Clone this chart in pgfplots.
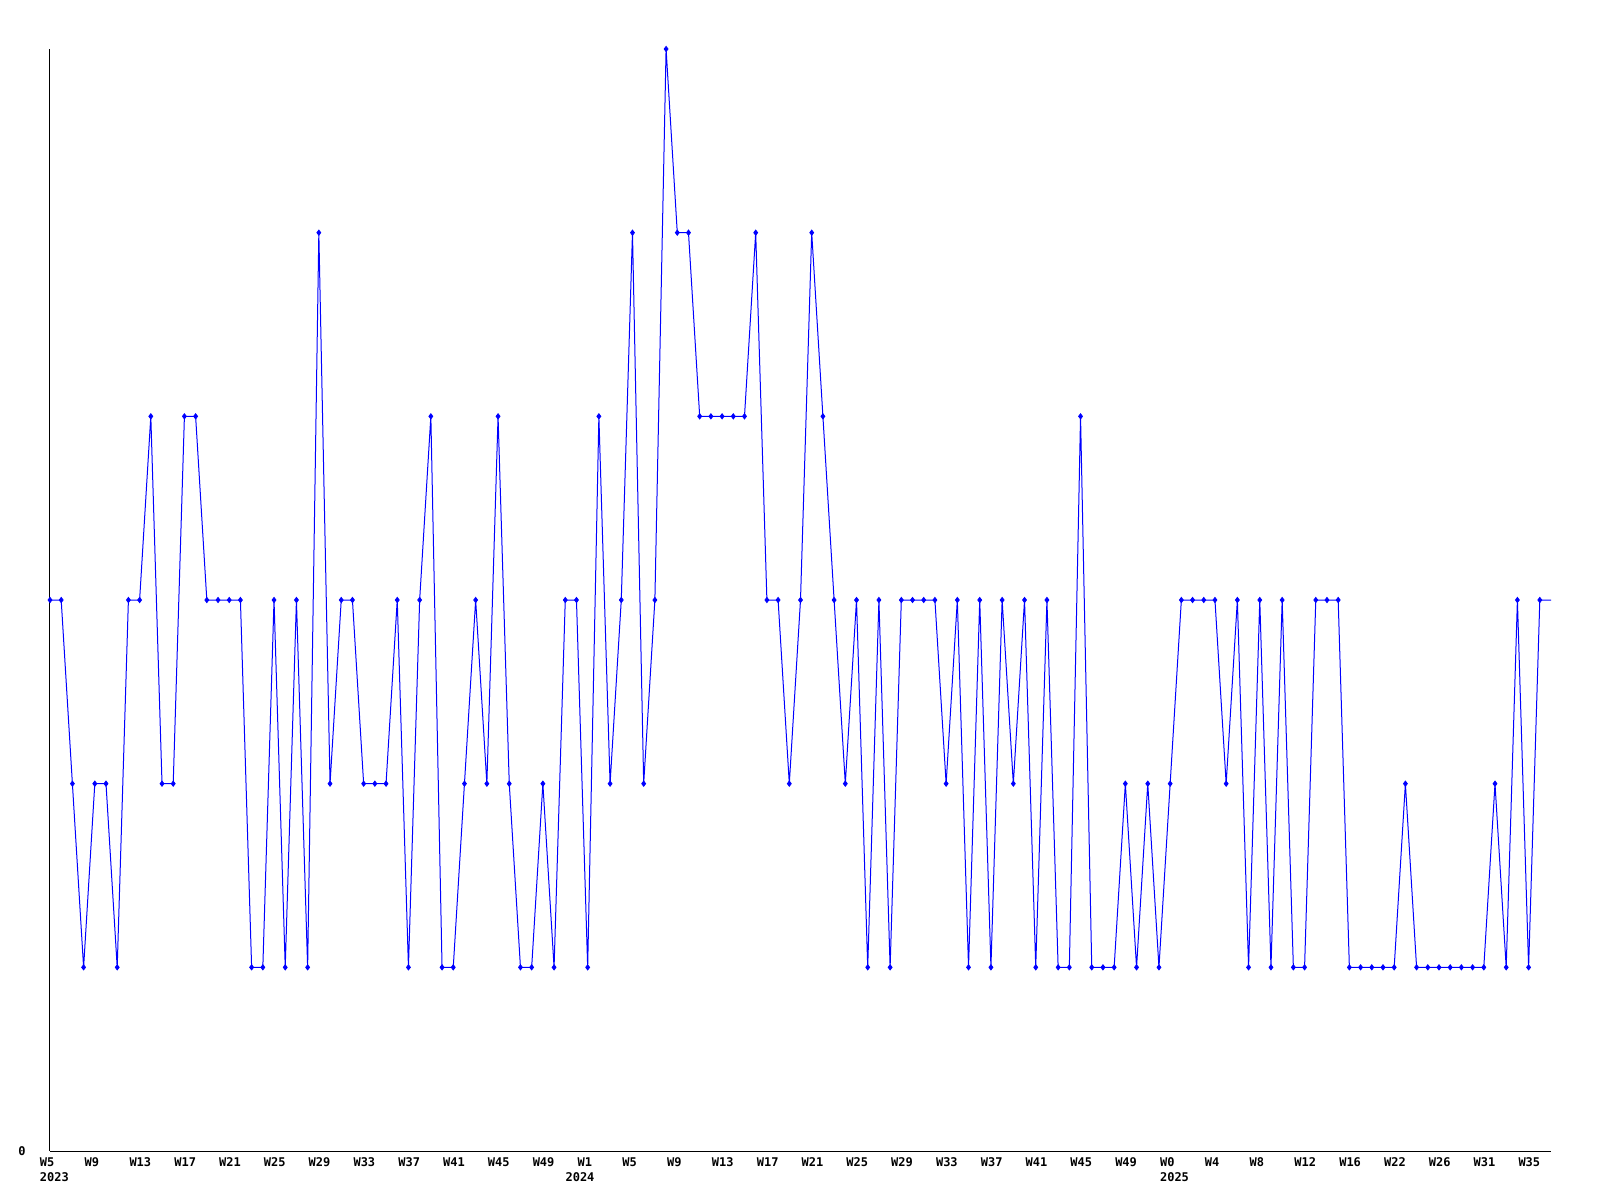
\documentclass[border=0pt]{standalone}
\usepackage{fontspec}
\setmonofont{DejaVu Sans Mono}
\usepackage{pgfplots}
\usepackage{pgfplotstable}
\pgfplotsset{compat=1.18}
\definecolor{lineblue}{RGB}{0,0,255}
\pgfplotstableread{
x y
0 3
1 3
2 2
3 1
4 2
5 2
6 1
7 3
8 3
9 4
10 2
11 2
12 4
13 4
14 3
15 3
16 3
17 3
18 1
19 1
20 3
21 1
22 3
23 1
24 5
25 2
26 3
27 3
28 2
29 2
30 2
31 3
32 1
33 3
34 4
35 1
36 1
37 2
38 3
39 2
40 4
41 2
42 1
43 1
44 2
45 1
46 3
47 3
48 1
49 4
50 2
51 3
52 5
53 2
54 3
55 6
56 5
57 5
58 4
59 4
60 4
61 4
62 4
63 5
64 3
65 3
66 2
67 3
68 5
69 4
70 3
71 2
72 3
73 1
74 3
75 1
76 3
77 3
78 3
79 3
80 2
81 3
82 1
83 3
84 1
85 3
86 2
87 3
88 1
89 3
90 1
91 1
92 4
93 1
94 1
95 1
96 2
97 1
98 2
99 1
100 2
101 3
102 3
103 3
104 3
105 2
106 3
107 1
108 3
109 1
110 3
111 1
112 1
113 3
114 3
115 3
116 1
117 1
118 1
119 1
120 1
121 2
122 1
123 1
124 1
125 1
126 1
127 1
128 1
129 2
130 1
131 3
132 1
133 3
134 3
}\datatable
\begin{document}
\begin{tikzpicture}
\path[use as bounding box] (0,0) rectangle (800pt,600pt);
\begin{axis}[
  at={(25pt,24.5pt)}, anchor=south west,
  scale only axis,
  width=750.5pt, height=551pt,
  xmin=0, xmax=134, ymin=0, ymax=6,
  axis lines=left,
  axis line style={black, line width=0.5pt, -},
  major tick length=0pt,
  xtick={0,4,...,132},
  xticklabels={{W5\\2023},W9,W13,W17,W21,W25,W29,W33,W37,W41,W45,W49,{W1\\\hspace*{-6pt}2024},W5,W9,W13,W17,W21,W25,W29,W33,W37,W41,W45,W49,{W0\\2025},W4,W8,W12,W16,W22,W26,W31,W35},
  xticklabel style={anchor=north west, inner sep=0pt, xshift=-5.25pt, yshift=-3pt, align=left,
    font=\fontsize{6}{7.5}\selectfont\ttfamily\bfseries},
  ytick={0},
  yticklabels={0},
  yticklabel style={anchor=east, inner sep=0pt, xshift=-12pt,
    font=\fontsize{6}{7.5}\selectfont\ttfamily\bfseries},
  clip=false,
]
\addplot[lineblue, line width=0.5pt, no marks] table[x=x,y=y] {\datatable};
\addplot[lineblue, only marks, mark=diamond*, mark size=1.3pt, restrict x to domain=0:133] table[x=x,y=y] {\datatable};
\end{axis}
\end{tikzpicture}
\end{document}
